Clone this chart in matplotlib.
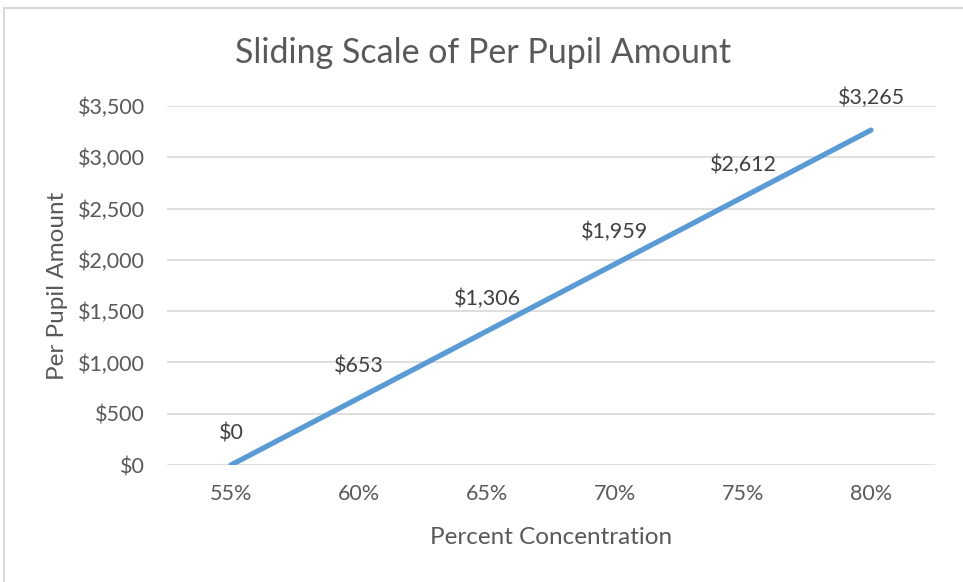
import matplotlib.pyplot as plt
from matplotlib.patches import Rectangle

categories = ['55%', '60%', '65%', '70%', '75%', '80%']
amounts = [0, 653, 1306, 1959, 2612, 3265]
y_ticks = [0, 500, 1000, 1500, 2000, 2500, 3000, 3500]

plt.rcParams['font.family'] = ['Lato', 'DejaVu Sans']

W, H = 963, 582
fig = plt.figure(figsize=(W / 100, H / 100), dpi=100)

# outer chart frame (runs off the right and bottom edges)
fig.patches.append(Rectangle((4 / W, -0.1), 1.2, 1 - 8 / H + 0.1, transform=fig.transFigure,
                             fill=False, edgecolor='#d9d9d9', linewidth=1.5))

ax = fig.add_axes([167 / W, 1 - 465 / H, (935 - 167) / W, (465 - 106) / H])

x = list(range(len(categories)))
ax.plot(x, amounts, color='#5b9bd5', linewidth=3.8, solid_capstyle='round')

for xi, v in zip(x, amounts):
    ax.annotate(f'${v:,}', (xi, v), xytext=(0, 22), textcoords='offset pixels',
                ha='center', va='bottom', fontsize=15.5, color='#404040')

ax.set_xlim(-0.5, len(categories) - 0.5)
ax.set_ylim(0, 3500)
ax.set_yticks(y_ticks)
ax.set_yticklabels([f'${t:,}' for t in y_ticks])
ax.set_xticks(x)
ax.set_xticklabels(categories)
ax.tick_params(length=0, labelsize=15.5, labelcolor='#595959', pad=14)
ax.tick_params(axis='y', pad=16)
ax.grid(axis='y', color='#d9d9d9', linewidth=1.2)
ax.set_axisbelow(True)
for s in ax.spines.values():
    s.set_visible(False)

ax.set_xlabel('Percent Concentration', fontsize=17.5, color='#595959', labelpad=16.5)
ax.set_ylabel('Per Pupil Amount', fontsize=17.5, color='#595959', labelpad=7)
fig.text(483 / W, 1 - 53 / H, 'Sliding Scale of Per Pupil Amount', ha='center', va='center',
         fontsize=24.5, color='#595959')

fig.savefig('out.png', dpi=100)
